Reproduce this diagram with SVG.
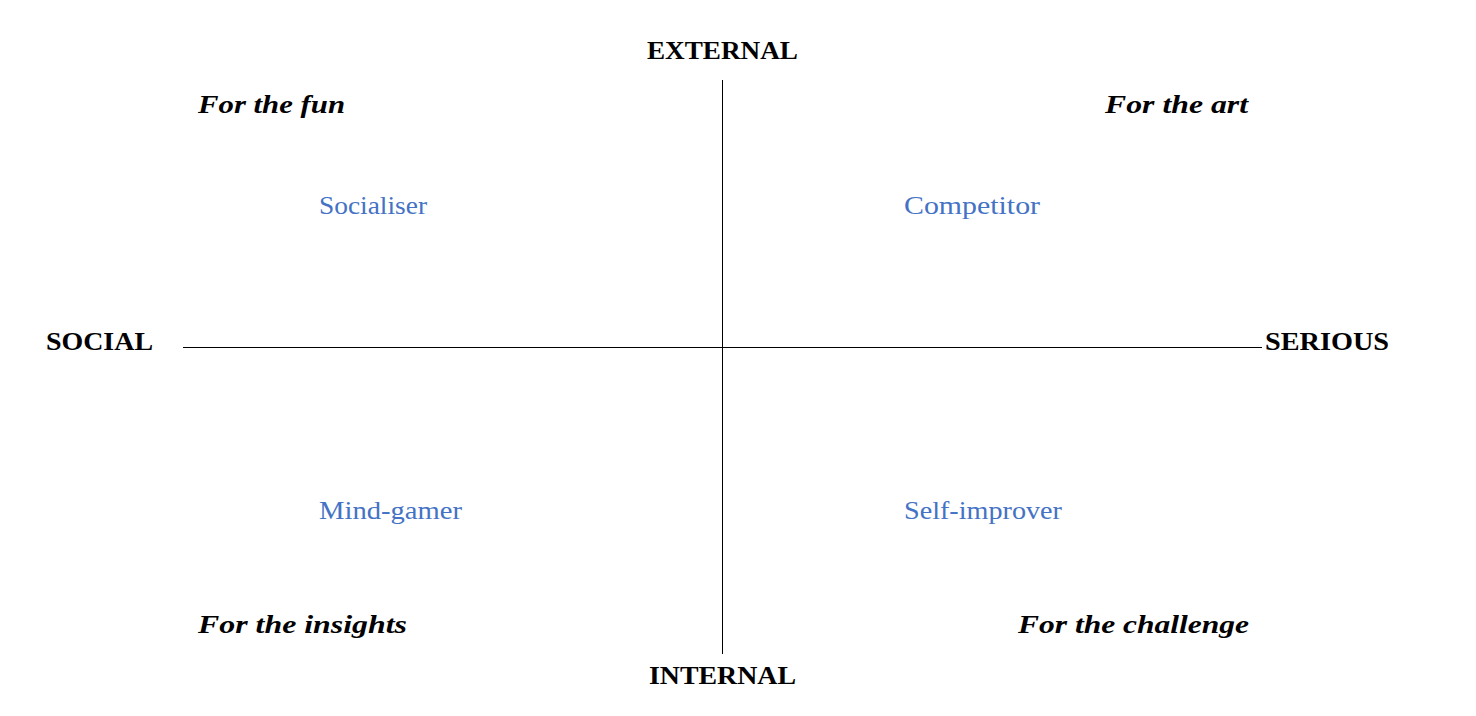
<svg xmlns="http://www.w3.org/2000/svg" width="1476" height="716" viewBox="0 0 1476 716">
<style>
.axis{font-family:"Liberation Serif",serif;font-weight:bold;font-size:26px;fill:#000}
.mot{font-family:"Liberation Serif",serif;font-weight:bold;font-style:italic;font-size:26px;fill:#000}
.type{font-family:"Liberation Serif",serif;font-size:26px;fill:#4472C4}
.ln{stroke:#000;stroke-width:1;fill:none}
</style>
<rect width="1476" height="716" fill="#fff"/>
<g id="connectors">
<line class="ln" x1="722.5" y1="80" x2="722.5" y2="654"/>
<line class="ln" x1="183" y1="347.5" x2="1262" y2="347.5"/>
</g>
<g id="external"><text class="axis" x="647" y="59" textLength="151" lengthAdjust="spacingAndGlyphs">EXTERNAL</text></g>
<g id="internal"><text class="axis" x="649" y="684" textLength="147" lengthAdjust="spacingAndGlyphs">INTERNAL</text></g>
<g id="social"><text class="axis" x="46" y="350" textLength="107" lengthAdjust="spacingAndGlyphs">SOCIAL</text></g>
<g id="serious"><text class="axis" x="1265" y="350" textLength="124" lengthAdjust="spacingAndGlyphs">SERIOUS</text></g>
<g id="fun"><text class="mot" x="198" y="113" textLength="147" lengthAdjust="spacingAndGlyphs">For the fun</text></g>
<g id="art"><text class="mot" x="1105" y="113" textLength="143" lengthAdjust="spacingAndGlyphs">For the art</text></g>
<g id="insights"><text class="mot" x="198" y="633" textLength="209" lengthAdjust="spacingAndGlyphs">For the insights</text></g>
<g id="challenge"><text class="mot" x="1018" y="633" textLength="231" lengthAdjust="spacingAndGlyphs">For the challenge</text></g>
<g id="socialiser"><text class="type" x="319" y="214" textLength="108" lengthAdjust="spacingAndGlyphs">Socialiser</text></g>
<g id="competitor"><text class="type" x="904" y="214" textLength="136" lengthAdjust="spacingAndGlyphs">Competitor</text></g>
<g id="mindgamer"><text class="type" x="319" y="519" textLength="143" lengthAdjust="spacingAndGlyphs">Mind-gamer</text></g>
<g id="selfimprover"><text class="type" x="904" y="519" textLength="158" lengthAdjust="spacingAndGlyphs">Self-improver</text></g>
</svg>
